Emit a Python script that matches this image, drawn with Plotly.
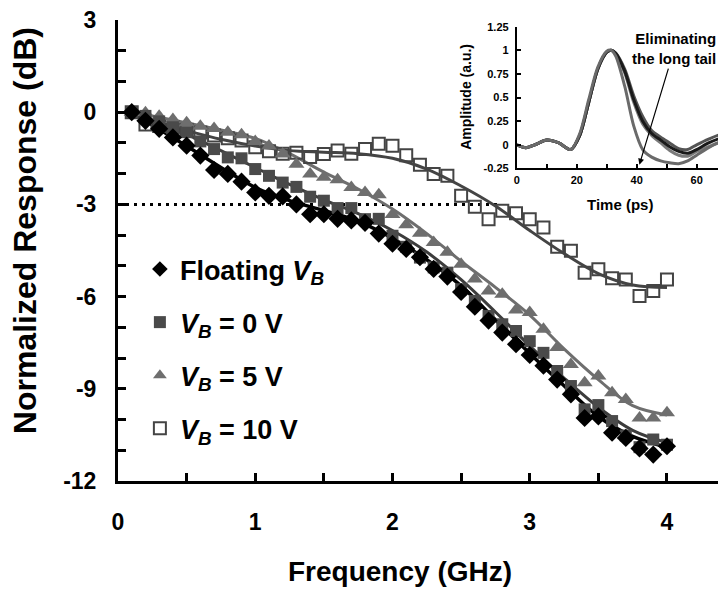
import plotly.graph_objects as go

# ---------------- main chart data ----------------
freq = [0.1, 0.2, 0.3, 0.4, 0.5, 0.6, 0.7, 0.8, 0.9, 1.0,
        1.1, 1.2, 1.3, 1.4, 1.5, 1.6, 1.7, 1.8, 1.9, 2.0,
        2.1, 2.2, 2.3, 2.4, 2.5, 2.6, 2.7, 2.8, 2.9, 3.0,
        3.1, 3.2, 3.3, 3.4, 3.5, 3.6, 3.7, 3.8, 3.9, 4.0]

floating = [0, -0.28, -0.54, -0.82, -1.09, -1.41, -1.88, -2.01, -2.26, -2.61,
            -2.72, -2.74, -3.0, -3.32, -3.32, -3.47, -3.52, -3.6, -3.95, -4.28,
            -4.45, -4.72, -5.1, -5.35, -5.85, -6.33, -6.78, -7.17, -7.55, -7.9,
            -8.25, -8.7, -9.18, -9.95, -9.9, -10.43, -10.6, -10.94, -11.14, -10.87]

vb0 = [0, -0.12, -0.3, -0.49, -0.65, -0.95, -1.2, -1.47, -1.5, -1.85,
       -2.07, -2.29, -2.43, -2.75, -2.88, -3.12, -3.12, -3.48, -3.47, -4.02,
       -4.38, -4.73, -5.05, -5.22, -5.76, -6.14, -6.63, -6.9, -7.12, -7.45,
       -7.83, -8.42, -8.91, -9.67, -9.53, -10.05, -10.52, -10.9, -10.65, -10.82]

vb5 = [0, -0.02, -0.13, -0.24, -0.34, -0.46, -0.53, -0.65, -0.73, -0.95,
       -1.1, -1.36, -1.69, -2.01, -2.12, -2.2, -2.45, -2.61, -2.69, -3.33,
       -3.66, -3.94, -4.24, -4.56, -4.95, -5.43, -5.82, -5.92, -6.44, -6.52,
       -7.06, -7.66, -8.21, -8.8, -8.58, -9.13, -9.35, -9.95, -9.95, -9.78]

vb10 = [0, -0.4, -0.45, -0.5, -0.57, -0.66, -0.76, -0.85, -0.92, -1.14,
        -1.27, -1.35, -1.32, -1.46, -1.36, -1.25, -1.35, -1.2, -1.03, -1.09,
        -1.4, -1.71, -2.01, -2.07, -2.72, -3.08, -3.48, -3.21, -3.29, -3.48,
        -3.75, -4.38, -4.51, -5.22, -5.11, -5.4, -5.44, -5.98, -5.82, -5.44]

fit_freq = [0.1, 0.25, 0.5, 0.75, 1.0, 1.25, 1.5, 1.75, 2.0, 2.25,
            2.5, 2.75, 3.0, 3.25, 3.5, 3.75, 4.0]
fit_floating = [0, -0.42, -1.1, -1.8, -2.45, -2.88, -3.2, -3.55, -4.1, -4.8,
                -5.65, -6.75, -7.85, -8.9, -9.9, -10.55, -10.9]
fit_vb0 = [0, -0.25, -0.72, -1.25, -1.8, -2.35, -2.85, -3.3, -3.85, -4.55,
           -5.45, -6.5, -7.6, -8.65, -9.6, -10.35, -10.75]
fit_vb5 = [0, -0.12, -0.35, -0.58, -0.85, -1.35, -1.95, -2.5, -3.15, -3.95,
           -4.85, -5.7, -6.6, -7.7, -8.7, -9.55, -9.85]
fit_vb10 = [0, -0.3, -0.6, -0.88, -1.1, -1.25, -1.3, -1.35, -1.5, -1.85,
            -2.4, -3.05, -3.85, -4.6, -5.25, -5.62, -5.7]

ref_freq = [0, 2.78]
ref_db = [-3, -3]

y_tickvals = [3, 0, -3, -6, -9, -12]
y_ticktext = ["3", "0", "-3", "-6", "-9", "-12"]

# ---------------- inset data ----------------
time_ps = [0, 3, 6, 10, 14, 18, 21, 24, 27, 30, 31.5, 33, 36, 39, 42, 45,
           48, 51, 54, 57, 60, 64, 68, 71]
amp_black = [0, -0.03, 0.0, 0.05, 0.02, -0.05, 0.1, 0.45, 0.8, 0.98, 1.0, 0.97,
             0.78, 0.48, 0.25, 0.12, 0.05, -0.02, -0.07, -0.09, -0.05, 0.02, 0.07, 0.08]
amp_dark = [0, -0.03, 0.0, 0.05, 0.02, -0.05, 0.1, 0.45, 0.8, 0.98, 1.0, 0.97,
            0.8, 0.52, 0.3, 0.15, 0.08, 0.02, -0.04, -0.05, 0.0, 0.06, 0.11, 0.12]
amp_gray = [0, -0.03, 0.0, 0.05, 0.02, -0.05, 0.1, 0.45, 0.8, 0.98, 1.0, 0.96,
            0.76, 0.45, 0.22, 0.1, 0.02, -0.06, -0.11, -0.12, -0.07, -0.02, 0.03, 0.05]
amp_vb10 = [0, -0.03, 0.0, 0.05, 0.02, -0.05, 0.12, 0.48, 0.82, 0.99, 1.0, 0.94,
            0.62, 0.2, -0.05, -0.13, -0.17, -0.19, -0.2, -0.17, -0.11, -0.03, 0.03, 0.05]
inset_yticks = [-0.25, 0, 0.25, 0.5, 0.75, 1, 1.25]
inset_ytext = ["-0.25", "0", "0.25", "0.5", "0.75", "1", "1.25"]

FONT = "Liberation Sans, Arial, sans-serif"
C_BLACK = "#000000"
C_SQ = "#4a4a4a"
C_TRI = "#6e6e6e"
C_OPEN = "#444444"

fig = go.Figure()

# reference -3 dB dotted line
fig.add_trace(go.Scatter(x=ref_freq, y=ref_db, mode="lines",
                         line=dict(color="black", width=3, dash="3px,5px"),
                         showlegend=False, hoverinfo="skip"))

# fit lines
for yv, col, w in [(fit_vb10, "#444444", 3), (fit_vb5, "#6e6e6e", 3),
                   (fit_vb0, "#3c3c3c", 3), (fit_floating, "#000000", 3.5)]:
    fig.add_trace(go.Scatter(x=fit_freq, y=yv, mode="lines",
                             line=dict(color=col, width=w, shape="spline", smoothing=1.0),
                             showlegend=False, hoverinfo="skip"))

# measured points
fig.add_trace(go.Scatter(x=freq, y=vb10, mode="markers", name="<i>V<sub>B</sub></i> = 10 V",
                         legendgroup="d", legendrank=4,
                         marker=dict(symbol="square-open", size=12, color=C_OPEN,
                                     line=dict(width=2, color=C_OPEN))))
fig.add_trace(go.Scatter(x=freq, y=vb5, mode="markers", name="<i>V<sub>B</sub></i> = 5 V",
                         legendgroup="c", legendrank=3,
                         marker=dict(symbol="triangle-up", size=14, color=C_TRI)))
fig.add_trace(go.Scatter(x=freq, y=vb0, mode="markers", name="<i>V<sub>B</sub></i> = 0 V",
                         legendgroup="b", legendrank=2,
                         marker=dict(symbol="square", size=12, color=C_SQ)))
fig.add_trace(go.Scatter(x=freq, y=floating, mode="markers", name="Floating <i>V<sub>B</sub></i>",
                         legendgroup="a", legendrank=1,
                         marker=dict(symbol="diamond", size=14, color=C_BLACK)))

# inset traces
for yv, col in [(amp_dark, "#555555"), (amp_gray, "#7a7a7a"), (amp_black, "#1a1a1a"),
                (amp_vb10, "#6a6a6a")]:
    fig.add_trace(go.Scatter(x=time_ps, y=yv, mode="lines", xaxis="x2", yaxis="y2",
                             line=dict(color=col, width=3, shape="spline", smoothing=0.8),
                             showlegend=False, hoverinfo="skip"))

# page has an 8 px body margin: figure is 718x586 so the plot lands where the reference has it
fig.update_layout(
    width=718, height=586,
    margin=dict(l=110, r=0, t=12, b=113),
    paper_bgcolor="white", plot_bgcolor="rgba(0,0,0,0)",
    font=dict(family=FONT, color="black"),
    xaxis=dict(range=[0, 4.43], showgrid=False, zeroline=False,
               showline=True, linecolor="black", linewidth=3,
               ticks="inside", ticklen=8, tickwidth=3, tickcolor="black",
               tick0=0, dtick=1,
               minor=dict(ticks="inside", dtick=0.5, ticklen=8, tickwidth=3,
                          tickcolor="black", showgrid=False),
               tickfont=dict(size=23, family=FONT, weight="bold"),
               ticklabelstandoff=18),
    yaxis=dict(range=[-12, 3], showgrid=False, zeroline=False,
               showline=True, linecolor="black", linewidth=3,
               ticks="inside", ticklen=8, tickwidth=3, tickcolor="black",
               tickvals=y_tickvals, ticktext=y_ticktext,
               ticklabeloverflow="allow",
               minor=dict(ticks="inside", tickvals=list(range(-12, 4)), ticklen=8,
                          tickwidth=3, tickcolor="black", showgrid=False),
               tickfont=dict(size=23, family=FONT, weight="bold"),
               ticklabelstandoff=14),
    xaxis2=dict(domain=[0.656, 1.0], anchor="y2", range=[0, 69.8],
                showgrid=False, zeroline=False, showline=True, linecolor="black",
                linewidth=2, ticks="inside", ticklen=4, tickwidth=2, tickcolor="black",
                tick0=0, dtick=20,
                minor=dict(ticks="inside", dtick=10, ticklen=4, tickwidth=2,
                           tickcolor="black", showgrid=False),
                tickfont=dict(size=11, family=FONT, weight="bold")),
    yaxis2=dict(domain=[0.678, 0.9855], anchor="x2", range=[-0.25, 1.25],
                showgrid=False, zeroline=False, showline=True, linecolor="black",
                linewidth=2, ticks="inside", ticklen=4, tickwidth=2, tickcolor="black",
                tickvals=inset_yticks, ticktext=inset_ytext,
                ticklabeloverflow="allow",
                tickfont=dict(size=11, family=FONT, weight="bold"),
                ticklabelstandoff=4),
    legend=dict(x=0.036, y=0.512, xanchor="left", yanchor="top",
                traceorder="grouped", tracegroupgap=15,
                bgcolor="rgba(0,0,0,0)", itemsizing="constant",
                font=dict(size=27, family=FONT, weight="bold")),
    showlegend=True,
)

ann = [
    dict(text="Normalized Response (dB)", xref="paper", yref="paper",
         x=-0.153, y=0.544, xanchor="center", yanchor="middle",
         textangle=-90, showarrow=False,
         font=dict(size=32, family=FONT, weight="bold")),
    dict(text="Frequency (GHz)", xref="paper", yref="paper",
         x=0.464, y=-0.197, xanchor="center", yanchor="middle", showarrow=False,
         font=dict(size=28, family=FONT, weight="bold")),
    dict(text="Amplitude (a.u.)", xref="paper", yref="paper",
         x=0.572, y=0.833, xanchor="center", yanchor="middle",
         textangle=-90, showarrow=False,
         font=dict(size=14, family=FONT, weight="bold")),
    dict(text="Time (ps)", xref="paper", yref="paper",
         x=0.8257, y=0.599, xanchor="center", yanchor="middle", showarrow=False,
         font=dict(size=15, family=FONT, weight="bold")),
    dict(text="Eliminating<br>the long tail", xref="x2", yref="y2",
         x=40.9, y=-0.21, ax=35, ay=-116, align="right",
         showarrow=True, arrowhead=2, arrowsize=1, arrowwidth=1.2, arrowcolor="black",
         standoff=0, startstandoff=0,
         font=dict(size=15, family=FONT, weight="bold")),
]
fig.update_layout(annotations=ann)

fig.write_html("out.html")
